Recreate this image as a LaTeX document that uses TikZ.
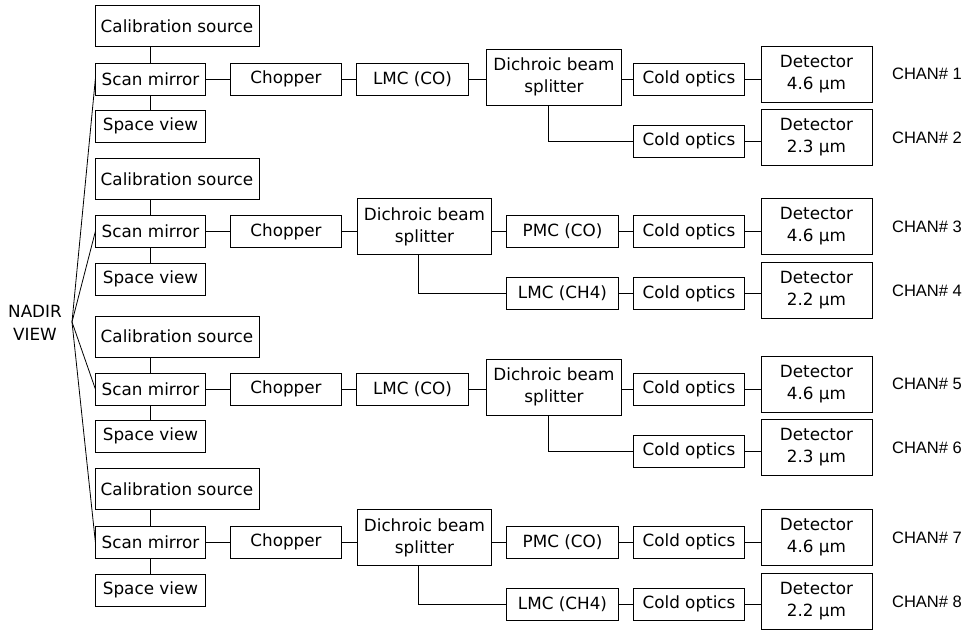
\documentclass[tikz,border=0pt]{standalone}
\usepackage{fontspec}
\setmainfont{DejaVu Sans}
\newfontfamily\chanfont{Liberation Sans}
\usetikzlibrary{calc}
\tikzset{
  blk/.style={draw, line width=0.7pt, inner sep=1pt, align=center,
    font=\fontsize{12.6}{16.5}\selectfont, minimum height=24pt},
  calbox/.style={blk, minimum width=123pt, minimum height=30.75pt},
  smbox/.style={blk, minimum width=82pt},
  midbox/.style={blk, minimum width=83.5pt},
  dbsbox/.style={blk, minimum width=101pt, minimum height=42pt},
  detbox/.style={blk, minimum width=83.25pt, minimum height=42pt},
  chan/.style={font=\chanfont\fontsize{12.4}{14}\selectfont},
  wire/.style={line width=0.6pt}
}

\begin{document}
\begin{tikzpicture}[x=0.75pt, y=-0.75pt]
        \useasboundingbox (0,0) rectangle (971,630);

        % Nadir view fan
        \node[font=\fontsize{12.6}{17}\selectfont, align=center] (nadirtxt) at (35,323) {NADIR\\VIEW};
        \coordinate (nadir) at (72,322);

        % Block 1 (CHAN 1, 2)
        \node[calbox] (cal1) at (177,26) {Calibration source};
        \node[smbox] (scan1) at (150.5,79) {Scan mirror};
        \node[smbox] (space1) at (150.5,126) {Space view};
        \node[midbox] (chop1) at (286,79) {Chopper};
        \node[midbox] (lmc1) at (412.5,79) {LMC (CO)};
        \node[dbsbox] (dbs1) at (554,77) {Dichroic beam\\splitter};
        \node[midbox] (co1) at (689,79) {Cold optics};
        \node[detbox] (det1) at (816.5,74) {Detector\\4.6 µm};
        \node[chan] (ch1) at (927,74) {CHAN\# 1};
        \node[midbox] (co2) at (689,141) {Cold optics};
        \node[detbox] (det2) at (816.5,137.5) {Detector\\2.3 µm};
        \node[chan] (ch2) at (927,137.5) {CHAN\# 2};

        \draw[wire] (scan1.north) -- (scan1.north |- cal1.south);
        \draw[wire] (scan1) -- (space1);
        \draw[wire] (scan1) -- (chop1);
        \draw[wire] (chop1) -- (lmc1);
        \draw[wire] (lmc1.east) -- (lmc1.east -| dbs1.west);
        \draw[wire] (dbs1.east |- co1.west) -- (co1.west);
        \draw[wire] (co1.east) -- (co1.east -| det1.west);
        \draw[wire] ([xshift=-4.5pt]dbs1.south) |- (co2.west);
        \draw[wire] (co2.east) -- (co2.east -| det2.west);

        % Block 2 (CHAN 3, 4)
        \node[calbox] (cal2) at (177,179) {Calibration source};
        \node[smbox] (scan2) at (150.5,231.5) {Scan mirror};
        \node[smbox] (space2) at (150.5,279) {Space view};
        \node[midbox] (chop2) at (286,231.5) {Chopper};
        \node[dbsbox] (dbs2) at (424.5,226.5) {Dichroic beam\\splitter};
        \node[midbox] (pmc2) at (562.5,231.5) {PMC (CO)};
        \node[midbox] (co3) at (689,231.5) {Cold optics};
        \node[detbox] (det3) at (816.5,226.5) {Detector\\4.6 µm};
        \node[chan] (ch3) at (927,226.5) {CHAN\# 3};
        \node[midbox] (lmc2) at (562.5,293.5) {LMC (CH4)};
        \node[midbox] (co4) at (689,293.5) {Cold optics};
        \node[detbox] (det4) at (816.5,290.5) {Detector\\2.2 µm};
        \node[chan] (ch4) at (927,290.5) {CHAN\# 4};

        \draw[wire] (scan2.north) -- (scan2.north |- cal2.south);
        \draw[wire] (scan2) -- (space2);
        \draw[wire] (scan2) -- (chop2);
        \draw[wire] (chop2.east) -- (chop2.east -| dbs2.west);
        \draw[wire] (dbs2.east |- pmc2.west) -- (pmc2.west);
        \draw[wire] (pmc2) -- (co3);
        \draw[wire] (co3.east) -- (co3.east -| det3.west);
        \draw[wire] ([xshift=-4.5pt]dbs2.south) |- (lmc2.west);
        \draw[wire] (lmc2) -- (co4);
        \draw[wire] (co4.east) -- (co4.east -| det4.west);

        % Block 3 (CHAN 5, 6)
        \node[calbox] (cal3) at (177,336.5) {Calibration source};
        \node[smbox] (scan3) at (150.5,389) {Scan mirror};
        \node[smbox] (space3) at (150.5,436) {Space view};
        \node[midbox] (chop3) at (286,389) {Chopper};
        \node[midbox] (lmc3) at (412.5,389) {LMC (CO)};
        \node[dbsbox] (dbs3) at (554,387) {Dichroic beam\\splitter};
        \node[midbox] (co5) at (689,389) {Cold optics};
        \node[detbox] (det5) at (816.5,384) {Detector\\4.6 µm};
        \node[chan] (ch5) at (927,384) {CHAN\# 5};
        \node[midbox] (co6) at (689,451) {Cold optics};
        \node[detbox] (det6) at (816.5,447.5) {Detector\\2.3 µm};
        \node[chan] (ch6) at (927,447.5) {CHAN\# 6};

        \draw[wire] (scan3.north) -- (scan3.north |- cal3.south);
        \draw[wire] (scan3) -- (space3);
        \draw[wire] (scan3) -- (chop3);
        \draw[wire] (chop3) -- (lmc3);
        \draw[wire] (lmc3.east) -- (lmc3.east -| dbs3.west);
        \draw[wire] (dbs3.east |- co5.west) -- (co5.west);
        \draw[wire] (co5.east) -- (co5.east -| det5.west);
        \draw[wire] ([xshift=-4.5pt]dbs3.south) |- (co6.west);
        \draw[wire] (co6.east) -- (co6.east -| det6.west);

        % Block 4 (CHAN 7, 8)
        \node[calbox] (cal4) at (177,489) {Calibration source};
        \node[smbox] (scan4) at (150.5,542) {Scan mirror};
        \node[smbox] (space4) at (150.5,590) {Space view};
        \node[midbox] (chop4) at (286,542) {Chopper};
        \node[dbsbox] (dbs4) at (424.5,537.5) {Dichroic beam\\splitter};
        \node[midbox] (pmc4) at (562.5,542) {PMC (CO)};
        \node[midbox] (co7) at (689,542) {Cold optics};
        \node[detbox] (det7) at (816.5,537.5) {Detector\\4.6 µm};
        \node[chan] (ch7) at (927,537.5) {CHAN\# 7};
        \node[midbox] (lmc4) at (562.5,604) {LMC (CH4)};
        \node[midbox] (co8) at (689,604) {Cold optics};
        \node[detbox] (det8) at (816.5,601.5) {Detector\\2.2 µm};
        \node[chan] (ch8) at (927,601.5) {CHAN\# 8};

        \draw[wire] (scan4.north) -- (scan4.north |- cal4.south);
        \draw[wire] (scan4) -- (space4);
        \draw[wire] (scan4) -- (chop4);
        \draw[wire] (chop4.east) -- (chop4.east -| dbs4.west);
        \draw[wire] (dbs4.east |- pmc4.west) -- (pmc4.west);
        \draw[wire] (pmc4) -- (co7);
        \draw[wire] (co7.east) -- (co7.east -| det7.west);
        \draw[wire] ([xshift=-4.5pt]dbs4.south) |- (lmc4.west);
        \draw[wire] (lmc4) -- (co8);
        \draw[wire] (co8.east) -- (co8.east -| det8.west);

        % fan lines to the scan mirrors
        \draw[wire] (nadir) -- (scan1.west);
        \draw[wire] (nadir) -- (scan2.west);
        \draw[wire] (nadir) -- (scan3.west);
        \draw[wire] (nadir) -- (scan4.west);
    \end{tikzpicture}
\end{document}
